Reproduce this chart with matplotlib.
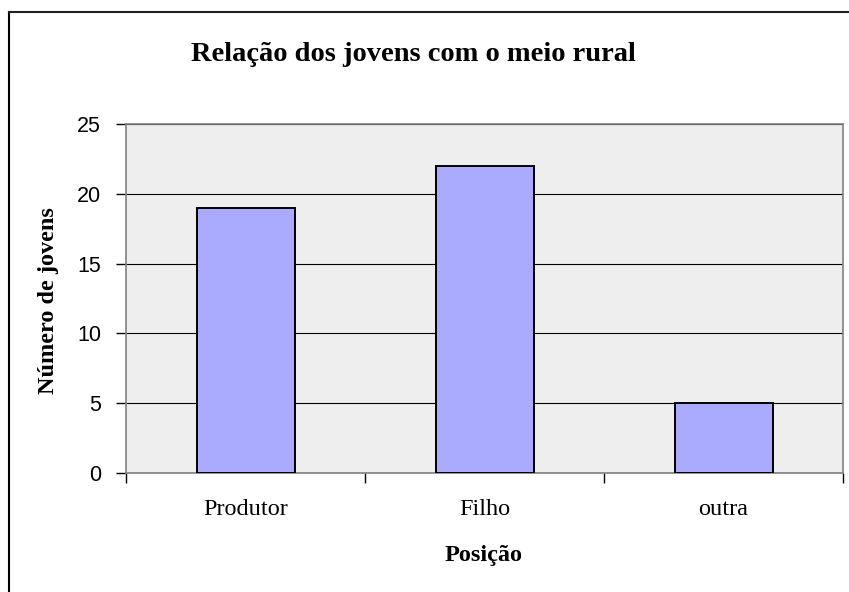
import matplotlib
matplotlib.use("Agg")
import matplotlib.pyplot as plt
from matplotlib.lines import Line2D

categorias = ["Produtor", "Filho", "outra"]
num_jovens = [19, 22, 5]
yticks = [0, 5, 10, 15, 20, 25]

fig = plt.figure(figsize=(8.49, 5.92), dpi=100)
ax = fig.add_axes([0.1484, 0.201, 0.8446, 0.5895])

ax.set_facecolor("#eeeeee")
x = list(range(len(categorias)))
ax.bar(x, num_jovens, width=0.41, color="#aaaaff", edgecolor="black",
       linewidth=1.4, zorder=3)

ax.set_xlim(-0.5, len(categorias) - 0.5)
ax.set_ylim(0, 25)
ax.set_yticks(yticks)
ax.yaxis.grid(True, color="black", linewidth=0.8, zorder=1)
ax.set_axisbelow(True)

# rotulos das categorias sem marcas, marcas nos limites
ax.set_xticks(x)
ax.set_xticklabels(categorias, family="Liberation Serif", fontsize=17.5)
ax.tick_params(axis="x", length=0, pad=19)
ax.set_xticks([i - 0.5 for i in range(len(categorias) + 1)], minor=True)
ax.tick_params(axis="x", which="minor", length=7, width=1, color="black",
               direction="out")
ax.tick_params(axis="y", length=7, width=1, color="black", pad=11)
for lab in ax.get_yticklabels():
    lab.set_family("Liberation Sans")
    lab.set_fontsize(15.5)

for s in ax.spines.values():
    s.set_color("#808080")
    s.set_linewidth(1.2)

fig.text(0.487, 0.908, "Relação dos jovens com o meio rural",
         family="Liberation Serif", fontweight="bold", fontsize=20.5,
         ha="center", va="center")
fig.text(0.057, 0.493, "Número de jovens", family="Liberation Serif",
         fontweight="bold", fontsize=17.5, rotation=90,
         ha="center", va="center")
fig.text(0.570, 0.062, "Posição", family="Liberation Serif",
         fontweight="bold", fontsize=17.5, ha="center", va="center")

# moldura do grafico
fig.add_artist(Line2D([9 / 849, 9 / 849], [0, 1 - 12 / 592],
                      color="black", linewidth=1.5,
                      transform=fig.transFigure))
fig.add_artist(Line2D([9 / 849, 1], [1 - 12 / 592, 1 - 12 / 592],
                      color="#222222", linewidth=1.5,
                      transform=fig.transFigure))

fig.savefig("out.png", dpi=100)
